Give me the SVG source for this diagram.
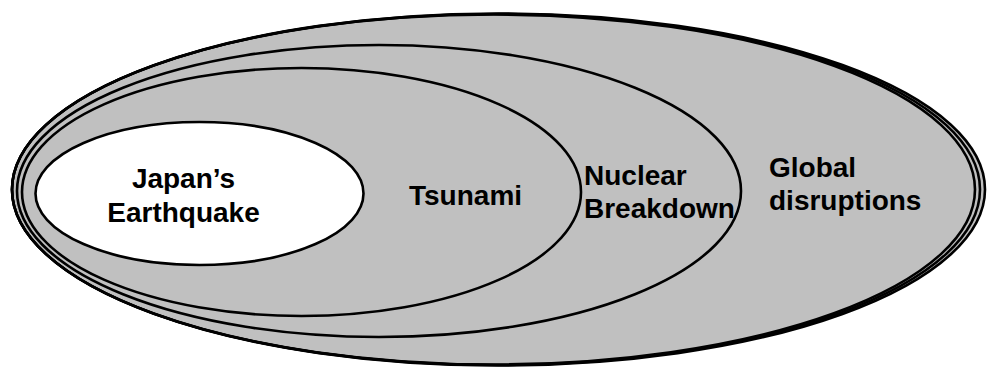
<svg xmlns="http://www.w3.org/2000/svg" width="987" height="367" viewBox="0 0 987 367">
  <style>
    .ring { fill: #c0c0c0; stroke: #000; stroke-width: 2.6; }
    .trace { fill: none; stroke: #000; stroke-width: 2.6; }
    .core { fill: #fff; stroke: #000; stroke-width: 2.6; }
    .lbl { font-family: "Liberation Sans", Arial, Helvetica, sans-serif; font-weight: bold; font-size: 28px; fill: #000; }
  </style>
  <rect width="987" height="367" fill="#fff"/>
  <!-- outermost set: global disruptions, drawn as three overlapping outlines -->
  <g id="global">
    <ellipse class="ring" cx="498.5" cy="189.5" rx="486.5" ry="176"/>
    <ellipse class="trace" cx="496" cy="189.5" rx="484" ry="175.5"/>
    <ellipse class="trace" cx="493.5" cy="189.5" rx="481.5" ry="175"/>
    <text class="lbl" x="769" y="177">Global</text>
    <text class="lbl" x="769" y="210">disruptions</text>
  </g>
  <g id="nuclear">
    <ellipse class="ring" cx="379" cy="191" rx="362" ry="146"/>
    <text class="lbl" x="584" y="185">Nuclear</text>
    <text class="lbl" x="584" y="218">Breakdown</text>
  </g>
  <g id="tsunami">
    <ellipse class="ring" cx="301.5" cy="192" rx="279.5" ry="124"/>
    <text class="lbl" x="409" y="205">Tsunami</text>
  </g>
  <g id="earthquake">
    <ellipse class="core" cx="199.5" cy="193.5" rx="164" ry="71.5"/>
    <text class="lbl" x="183.5" y="188" text-anchor="middle">Japan’s</text>
    <text class="lbl" x="183.5" y="222" text-anchor="middle">Earthquake</text>
  </g>
</svg>
